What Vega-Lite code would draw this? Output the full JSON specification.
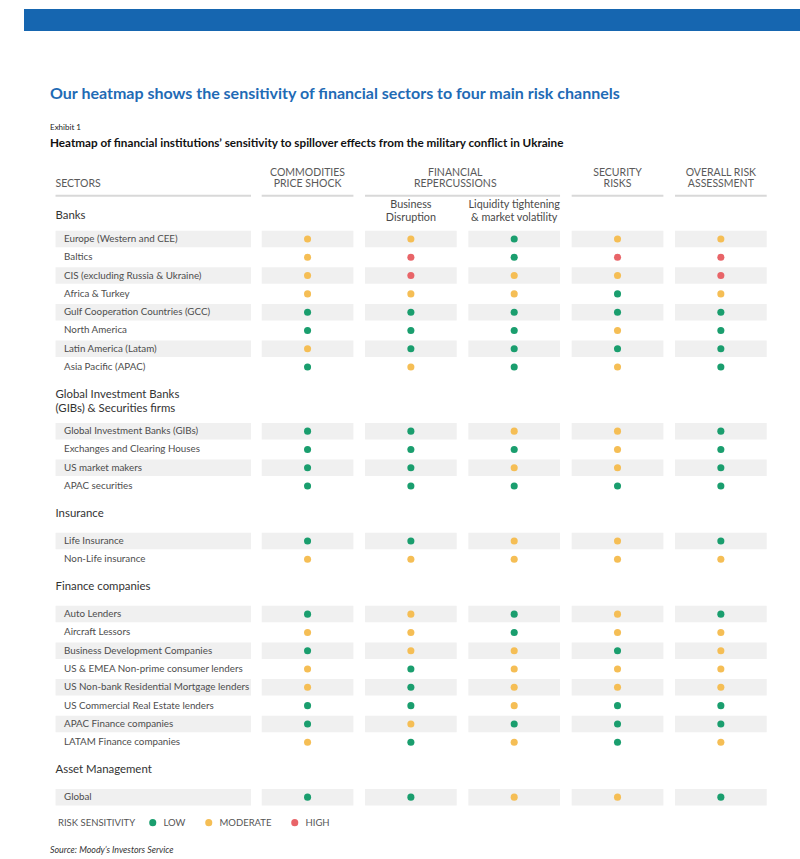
{
  "$schema": "https://vega.github.io/schema/vega-lite/v6.json",
  "padding": {"left": 24, "top": 9, "right": 0, "bottom": 0},
  "background": "white",
  "bounds": "flush",
  "spacing": 20.4,
  "config": {"view": {"stroke": null}, "font": "Lato"},
  "datasets": {
    "cells": [
      {"row": "Europe (Western and CEE)", "channel": "Commodities", "risk": "Moderate"},
      {"row": "Europe (Western and CEE)", "channel": "Business", "risk": "Moderate"},
      {"row": "Europe (Western and CEE)", "channel": "Liquidity", "risk": "Low"},
      {"row": "Europe (Western and CEE)", "channel": "Security", "risk": "Moderate"},
      {"row": "Europe (Western and CEE)", "channel": "Overall", "risk": "Moderate"},
      {"row": "Baltics", "channel": "Commodities", "risk": "Moderate"},
      {"row": "Baltics", "channel": "Business", "risk": "High"},
      {"row": "Baltics", "channel": "Liquidity", "risk": "Low"},
      {"row": "Baltics", "channel": "Security", "risk": "High"},
      {"row": "Baltics", "channel": "Overall", "risk": "High"},
      {"row": "CIS (excluding Russia & Ukraine)", "channel": "Commodities", "risk": "Moderate"},
      {"row": "CIS (excluding Russia & Ukraine)", "channel": "Business", "risk": "High"},
      {"row": "CIS (excluding Russia & Ukraine)", "channel": "Liquidity", "risk": "Moderate"},
      {"row": "CIS (excluding Russia & Ukraine)", "channel": "Security", "risk": "Moderate"},
      {"row": "CIS (excluding Russia & Ukraine)", "channel": "Overall", "risk": "High"},
      {"row": "Africa & Turkey", "channel": "Commodities", "risk": "Moderate"},
      {"row": "Africa & Turkey", "channel": "Business", "risk": "Moderate"},
      {"row": "Africa & Turkey", "channel": "Liquidity", "risk": "Moderate"},
      {"row": "Africa & Turkey", "channel": "Security", "risk": "Low"},
      {"row": "Africa & Turkey", "channel": "Overall", "risk": "Moderate"},
      {"row": "Gulf Cooperation Countries (GCC)", "channel": "Commodities", "risk": "Low"},
      {"row": "Gulf Cooperation Countries (GCC)", "channel": "Business", "risk": "Low"},
      {"row": "Gulf Cooperation Countries (GCC)", "channel": "Liquidity", "risk": "Low"},
      {"row": "Gulf Cooperation Countries (GCC)", "channel": "Security", "risk": "Low"},
      {"row": "Gulf Cooperation Countries (GCC)", "channel": "Overall", "risk": "Low"},
      {"row": "North America", "channel": "Commodities", "risk": "Low"},
      {"row": "North America", "channel": "Business", "risk": "Low"},
      {"row": "North America", "channel": "Liquidity", "risk": "Low"},
      {"row": "North America", "channel": "Security", "risk": "Moderate"},
      {"row": "North America", "channel": "Overall", "risk": "Low"},
      {"row": "Latin America (Latam)", "channel": "Commodities", "risk": "Moderate"},
      {"row": "Latin America (Latam)", "channel": "Business", "risk": "Low"},
      {"row": "Latin America (Latam)", "channel": "Liquidity", "risk": "Low"},
      {"row": "Latin America (Latam)", "channel": "Security", "risk": "Low"},
      {"row": "Latin America (Latam)", "channel": "Overall", "risk": "Low"},
      {"row": "Asia Pacific (APAC)", "channel": "Commodities", "risk": "Low"},
      {"row": "Asia Pacific (APAC)", "channel": "Business", "risk": "Moderate"},
      {"row": "Asia Pacific (APAC)", "channel": "Liquidity", "risk": "Low"},
      {"row": "Asia Pacific (APAC)", "channel": "Security", "risk": "Moderate"},
      {"row": "Asia Pacific (APAC)", "channel": "Overall", "risk": "Low"},
      {"row": "Global Investment Banks (GIBs)", "channel": "Commodities", "risk": "Low"},
      {"row": "Global Investment Banks (GIBs)", "channel": "Business", "risk": "Low"},
      {"row": "Global Investment Banks (GIBs)", "channel": "Liquidity", "risk": "Moderate"},
      {"row": "Global Investment Banks (GIBs)", "channel": "Security", "risk": "Moderate"},
      {"row": "Global Investment Banks (GIBs)", "channel": "Overall", "risk": "Low"},
      {"row": "Exchanges and Clearing Houses", "channel": "Commodities", "risk": "Low"},
      {"row": "Exchanges and Clearing Houses", "channel": "Business", "risk": "Low"},
      {"row": "Exchanges and Clearing Houses", "channel": "Liquidity", "risk": "Low"},
      {"row": "Exchanges and Clearing Houses", "channel": "Security", "risk": "Moderate"},
      {"row": "Exchanges and Clearing Houses", "channel": "Overall", "risk": "Low"},
      {"row": "US market makers", "channel": "Commodities", "risk": "Low"},
      {"row": "US market makers", "channel": "Business", "risk": "Low"},
      {"row": "US market makers", "channel": "Liquidity", "risk": "Moderate"},
      {"row": "US market makers", "channel": "Security", "risk": "Moderate"},
      {"row": "US market makers", "channel": "Overall", "risk": "Low"},
      {"row": "APAC securities", "channel": "Commodities", "risk": "Low"},
      {"row": "APAC securities", "channel": "Business", "risk": "Low"},
      {"row": "APAC securities", "channel": "Liquidity", "risk": "Low"},
      {"row": "APAC securities", "channel": "Security", "risk": "Low"},
      {"row": "APAC securities", "channel": "Overall", "risk": "Low"},
      {"row": "Life Insurance", "channel": "Commodities", "risk": "Low"},
      {"row": "Life Insurance", "channel": "Business", "risk": "Low"},
      {"row": "Life Insurance", "channel": "Liquidity", "risk": "Moderate"},
      {"row": "Life Insurance", "channel": "Security", "risk": "Moderate"},
      {"row": "Life Insurance", "channel": "Overall", "risk": "Low"},
      {"row": "Non-Life insurance", "channel": "Commodities", "risk": "Moderate"},
      {"row": "Non-Life insurance", "channel": "Business", "risk": "Moderate"},
      {"row": "Non-Life insurance", "channel": "Liquidity", "risk": "Moderate"},
      {"row": "Non-Life insurance", "channel": "Security", "risk": "Moderate"},
      {"row": "Non-Life insurance", "channel": "Overall", "risk": "Moderate"},
      {"row": "Auto Lenders", "channel": "Commodities", "risk": "Low"},
      {"row": "Auto Lenders", "channel": "Business", "risk": "Moderate"},
      {"row": "Auto Lenders", "channel": "Liquidity", "risk": "Low"},
      {"row": "Auto Lenders", "channel": "Security", "risk": "Moderate"},
      {"row": "Auto Lenders", "channel": "Overall", "risk": "Low"},
      {"row": "Aircraft Lessors", "channel": "Commodities", "risk": "Moderate"},
      {"row": "Aircraft Lessors", "channel": "Business", "risk": "Moderate"},
      {"row": "Aircraft Lessors", "channel": "Liquidity", "risk": "Low"},
      {"row": "Aircraft Lessors", "channel": "Security", "risk": "Moderate"},
      {"row": "Aircraft Lessors", "channel": "Overall", "risk": "Moderate"},
      {"row": "Business Development Companies", "channel": "Commodities", "risk": "Low"},
      {"row": "Business Development Companies", "channel": "Business", "risk": "Moderate"},
      {"row": "Business Development Companies", "channel": "Liquidity", "risk": "Moderate"},
      {"row": "Business Development Companies", "channel": "Security", "risk": "Low"},
      {"row": "Business Development Companies", "channel": "Overall", "risk": "Moderate"},
      {"row": "US & EMEA Non-prime consumer lenders", "channel": "Commodities", "risk": "Moderate"},
      {"row": "US & EMEA Non-prime consumer lenders", "channel": "Business", "risk": "Low"},
      {"row": "US & EMEA Non-prime consumer lenders", "channel": "Liquidity", "risk": "Moderate"},
      {"row": "US & EMEA Non-prime consumer lenders", "channel": "Security", "risk": "Moderate"},
      {"row": "US & EMEA Non-prime consumer lenders", "channel": "Overall", "risk": "Moderate"},
      {"row": "US Non-bank Residential Mortgage lenders", "channel": "Commodities", "risk": "Moderate"},
      {"row": "US Non-bank Residential Mortgage lenders", "channel": "Business", "risk": "Low"},
      {"row": "US Non-bank Residential Mortgage lenders", "channel": "Liquidity", "risk": "Moderate"},
      {"row": "US Non-bank Residential Mortgage lenders", "channel": "Security", "risk": "Moderate"},
      {"row": "US Non-bank Residential Mortgage lenders", "channel": "Overall", "risk": "Moderate"},
      {"row": "US Commercial Real Estate lenders", "channel": "Commodities", "risk": "Low"},
      {"row": "US Commercial Real Estate lenders", "channel": "Business", "risk": "Low"},
      {"row": "US Commercial Real Estate lenders", "channel": "Liquidity", "risk": "Moderate"},
      {"row": "US Commercial Real Estate lenders", "channel": "Security", "risk": "Low"},
      {"row": "US Commercial Real Estate lenders", "channel": "Overall", "risk": "Low"},
      {"row": "APAC Finance companies", "channel": "Commodities", "risk": "Low"},
      {"row": "APAC Finance companies", "channel": "Business", "risk": "Moderate"},
      {"row": "APAC Finance companies", "channel": "Liquidity", "risk": "Low"},
      {"row": "APAC Finance companies", "channel": "Security", "risk": "Low"},
      {"row": "APAC Finance companies", "channel": "Overall", "risk": "Low"},
      {"row": "LATAM Finance companies", "channel": "Commodities", "risk": "Moderate"},
      {"row": "LATAM Finance companies", "channel": "Business", "risk": "Low"},
      {"row": "LATAM Finance companies", "channel": "Liquidity", "risk": "Moderate"},
      {"row": "LATAM Finance companies", "channel": "Security", "risk": "Low"},
      {"row": "LATAM Finance companies", "channel": "Overall", "risk": "Moderate"},
      {"row": "Global", "channel": "Commodities", "risk": "Low"},
      {"row": "Global", "channel": "Business", "risk": "Low"},
      {"row": "Global", "channel": "Liquidity", "risk": "Moderate"},
      {"row": "Global", "channel": "Security", "risk": "Moderate"},
      {"row": "Global", "channel": "Overall", "risk": "Low"}
    ],
    "groups": [
      {"row": "h_banks", "label": "Banks"},
      {"row": "h_gib1", "label": "Global Investment Banks"},
      {"row": "h_gib2", "label": "(GIBs) & Securities firms"},
      {"row": "h_ins", "label": "Insurance"},
      {"row": "h_fin", "label": "Finance companies"},
      {"row": "h_am", "label": "Asset Management"}
    ],
    "texts": [
      {"row": "title", "label": "Our heatmap shows the sensitivity of financial sectors to four main risk channels"},
      {"row": "exhibit", "label": "Exhibit 1"},
      {"row": "subtitle", "label": "Heatmap of financial institutions’ sensitivity to spillover effects from the military conflict in Ukraine"},
      {"row": "source", "label": "Source: Moody’s Investors Service"}
    ],
    "columns": [
      {"row": "hdr1", "channel": "Commodities", "label": "COMMODITIES"},
      {"row": "hdr2", "channel": "Commodities", "label": "PRICE SHOCK"},
      {"row": "hdr1", "channel": "Security", "label": "SECURITY"},
      {"row": "hdr2", "channel": "Security", "label": "RISKS"},
      {"row": "hdr1", "channel": "Overall", "label": "OVERALL RISK"},
      {"row": "hdr2", "channel": "Overall", "label": "ASSESSMENT"},
      {"row": "hdr1", "channel": "Business", "label": "FINANCIAL", "span": "both"},
      {"row": "hdr2", "channel": "Business", "label": "REPERCUSSIONS", "span": "both"},
      {"row": "sub1", "channel": "Business", "label": "Business"},
      {"row": "sub2", "channel": "Business", "label": "Disruption"},
      {"row": "sub1", "channel": "Liquidity", "label": "Liquidity tightening"},
      {"row": "sub2", "channel": "Liquidity", "label": "& market volatility"}
    ]
  },
  "vconcat": [
    {
      "width": 776,
      "height": 22,
      "data": {"values": [{"part": "banner"}]},
      "mark": {"type": "rect", "color": "#1666b0"},
      "encoding": {
        "x": {"field": "part", "type": "nominal", "scale": {"paddingInner": 0, "paddingOuter": 0}, "axis": null},
        "y": {"field": "part", "type": "nominal", "scale": {"paddingInner": 0, "paddingOuter": 0}, "axis": null}
      }
    },
    {
      "bounds": "flush",
      "spacing": 10.7,
      "hconcat": [
        {
          "width": 227,
          "height": 805.2,
          "encoding": {
            "y": {"field": "row", "type": "nominal", "axis": null, "scale": {"paddingInner": 0, "paddingOuter": 0, "domain": ["_0","_1","_2","_3","title","_5","_6","_7","exhibit","_9","subtitle","_11","_12","hdr1","hdr2","ul","sub1","sub2","h_banks","_19","Europe (Western and CEE)","_21","Baltics","_23","CIS (excluding Russia & Ukraine)","_25","Africa & Turkey","_27","Gulf Cooperation Countries (GCC)","_29","North America","_31","Latin America (Latam)","_33","Asia Pacific (APAC)","_35","_36","h_gib1","_38","h_gib2","_40","Global Investment Banks (GIBs)","_42","Exchanges and Clearing Houses","_44","US market makers","_46","APAC securities","_48","_49","h_ins","_51","_52","Life Insurance","_54","Non-Life insurance","_56","_57","h_fin","_59","_60","Auto Lenders","_62","Aircraft Lessors","_64","Business Development Companies","_66","US & EMEA Non-prime consumer lenders","_68","US Non-bank Residential Mortgage lenders","_70","US Commercial Real Estate lenders","_72","APAC Finance companies","_74","LATAM Finance companies","_76","_77","h_am","_79","_80","Global","_82","_83","_84","_85","_86","source"]}},
            "x": {"datum": "Sectors", "type": "nominal", "axis": null, "scale": {"domain": ["Sectors"], "paddingInner": 0, "paddingOuter": 0.0806, "align": 1}}
          },
          "layer": [
            {
              "data": {"name": "cells"},
              "transform": [
                {"filter": "datum.channel == 'Commodities'"},
                {"window": [{"op": "row_number", "as": "idx"}]},
                {"filter": "datum.idx % 2 == 1"}
              ],
              "mark": {"type": "rect", "height": 16.5, "color": "#f0f0f0"}
            },
            {
              "data": {"name": "cells"},
              "transform": [{"filter": "datum.channel == 'Commodities'"}],
              "mark": {"type": "text", "align": "left", "baseline": "middle", "dx": 8.5, "fontSize": 9.8, "color": "#4d4d4d"},
              "encoding": {"x": {"datum": "Sectors", "type": "nominal", "bandPosition": 0}, "text": {"field": "row"}}
            },
            {
              "data": {"values": [{"row": "hdr2", "label": "SECTORS"}]},
              "mark": {"type": "text", "align": "left", "baseline": "middle", "fontSize": 10.5, "color": "#5a5a5a"},
              "encoding": {"x": {"datum": "Sectors", "type": "nominal", "bandPosition": 0}, "text": {"field": "label"}}
            },
            {
              "data": {"values": [{"row": "ul"}]},
              "mark": {"type": "rect", "height": 2, "yOffset": 2.45, "color": "#d8d8d8"}
            },
            {
              "data": {"name": "groups"},
              "transform": [{"filter": {"field": "row", "oneOf": ["h_banks", "h_gib2"]}}],
              "mark": {"type": "text", "align": "left", "baseline": "middle", "dy": -4.2, "fontSize": 11.4, "color": "#333333"},
              "encoding": {"x": {"datum": "Sectors", "type": "nominal", "bandPosition": 0}, "text": {"field": "label"}}
            },
            {
              "data": {"name": "groups"},
              "transform": [{"filter": {"not": {"field": "row", "oneOf": ["h_banks", "h_gib2"]}}}],
              "mark": {"type": "text", "align": "left", "baseline": "middle", "dy": 0.4, "fontSize": 11.4, "color": "#333333"},
              "encoding": {"x": {"datum": "Sectors", "type": "nominal", "bandPosition": 0}, "text": {"field": "label"}}
            },
            {
              "data": {"name": "texts"},
              "transform": [{"filter": "datum.row == 'title'"}],
              "mark": {"type": "text", "align": "left", "baseline": "middle", "dx": -5.5, "dy": 1.7, "fontSize": 16, "fontWeight": "bold", "color": "#1f6bb5"},
              "encoding": {"x": {"datum": "Sectors", "type": "nominal", "bandPosition": 0}, "text": {"field": "label"}}
            },
            {
              "data": {"name": "texts"},
              "transform": [{"filter": "datum.row == 'exhibit'"}],
              "mark": {"type": "text", "align": "left", "baseline": "middle", "dx": -5.5, "dy": -1.2, "fontSize": 8, "color": "#222222"},
              "encoding": {"x": {"datum": "Sectors", "type": "nominal", "bandPosition": 0}, "text": {"field": "label"}}
            },
            {
              "data": {"name": "texts"},
              "transform": [{"filter": "datum.row == 'subtitle'"}],
              "mark": {"type": "text", "align": "left", "baseline": "middle", "dx": -5.5, "dy": -4.8, "fontSize": 11.7, "fontWeight": "bold", "color": "#111111"},
              "encoding": {"x": {"datum": "Sectors", "type": "nominal", "bandPosition": 0}, "text": {"field": "label"}}
            },
            {
              "data": {"name": "texts"},
              "transform": [{"filter": "datum.row == 'source'"}],
              "mark": {"type": "text", "align": "left", "baseline": "middle", "dx": -5.5, "dy": -2, "fontSize": 8.9, "fontStyle": "italic", "color": "#333333"},
              "encoding": {"x": {"datum": "Sectors", "type": "nominal", "bandPosition": 0}, "text": {"field": "label"}}
            }
          ]
        },
        {
          "width": 505,
          "height": 805.2,
          "encoding": {
            "y": {"field": "row", "type": "nominal", "axis": null, "scale": {"paddingInner": 0, "paddingOuter": 0, "domain": ["_0","_1","_2","_3","title","_5","_6","_7","exhibit","_9","subtitle","_11","_12","hdr1","hdr2","ul","sub1","sub2","h_banks","_19","Europe (Western and CEE)","_21","Baltics","_23","CIS (excluding Russia & Ukraine)","_25","Africa & Turkey","_27","Gulf Cooperation Countries (GCC)","_29","North America","_31","Latin America (Latam)","_33","Asia Pacific (APAC)","_35","_36","h_gib1","_38","h_gib2","_40","Global Investment Banks (GIBs)","_42","Exchanges and Clearing Houses","_44","US market makers","_46","APAC securities","_48","_49","h_ins","_51","_52","Life Insurance","_54","Non-Life insurance","_56","_57","h_fin","_59","_60","Auto Lenders","_62","Aircraft Lessors","_64","Business Development Companies","_66","US & EMEA Non-prime consumer lenders","_68","US Non-bank Residential Mortgage lenders","_70","US Commercial Real Estate lenders","_72","APAC Finance companies","_74","LATAM Finance companies","_76","_77","h_am","_79","_80","Global","_82","_83","_84","_85","_86","source"]}},
            "x": {"field": "channel", "type": "nominal", "axis": null, "scale": {"domain": ["Commodities", "Business", "Liquidity", "Security", "Overall"], "paddingInner": 0.1125, "paddingOuter": 0}}
          },
          "layer": [
            {
              "data": {"name": "cells"},
              "transform": [
                {"window": [{"op": "row_number", "as": "idx"}], "groupby": ["channel"]},
                {"filter": "datum.idx % 2 == 1"}
              ],
              "mark": {"type": "rect", "height": 16.5, "color": "#f0f0f0"}
            },
            {
              "data": {"name": "cells"},
              "mark": {"type": "circle", "size": 50, "opacity": 1},
              "encoding": {
                "color": {
                  "field": "risk",
                  "type": "nominal",
                  "scale": {"domain": ["Low", "Moderate", "High"], "range": ["#1a9e6e", "#f5be55", "#e86468"]},
                  "legend": {
                    "orient": "none", "legendX": 34, "legendY": 808.5, "direction": "horizontal",
                    "title": "RISK SENSITIVITY", "titleOrient": "left", "titleFontSize": 9.5, "titleFontWeight": "normal",
                    "titleColor": "#555555", "titlePadding": 12, "labelFontSize": 9.5, "labelColor": "#555555",
                    "labelExpr": "upper(datum.label)", "symbolSize": 50, "symbolType": "circle", "symbolStrokeWidth": 0,
                    "symbolOpacity": 1, "labelOffset": 6, "columnPadding": 18
                  }
                }
              }
            },
            {
              "data": {"name": "columns"},
              "transform": [{"filter": "datum.row == 'hdr1' && datum.span != 'both'"}],
              "mark": {"type": "text", "baseline": "middle", "align": "center", "dy": -2.25, "fontSize": 10.5, "color": "#5a5a5a"},
              "encoding": {"text": {"field": "label"}}
            },
            {
              "data": {"name": "columns"},
              "transform": [{"filter": "datum.row == 'hdr2' && datum.span != 'both'"}],
              "mark": {"type": "text", "baseline": "middle", "align": "center", "fontSize": 10.5, "color": "#5a5a5a"},
              "encoding": {"text": {"field": "label"}}
            },
            {
              "data": {"name": "columns"},
              "transform": [{"filter": "datum.row == 'hdr1' && datum.span == 'both'"}],
              "mark": {"type": "text", "baseline": "middle", "align": "center", "dx": -1.5, "dy": -2.25, "fontSize": 10.5, "color": "#5a5a5a"},
              "encoding": {"x": {"field": "channel", "type": "nominal", "bandPosition": 1}, "text": {"field": "label"}}
            },
            {
              "data": {"name": "columns"},
              "transform": [{"filter": "datum.row == 'hdr2' && datum.span == 'both'"}],
              "mark": {"type": "text", "baseline": "middle", "align": "center", "dx": -1.5, "fontSize": 10.5, "color": "#5a5a5a"},
              "encoding": {"x": {"field": "channel", "type": "nominal", "bandPosition": 1}, "text": {"field": "label"}}
            },
            {
              "data": {"name": "columns"},
              "transform": [{"filter": "datum.row == 'sub1'"}],
              "mark": {"type": "text", "baseline": "middle", "align": "center", "dy": 2.6, "fontSize": 10.8, "color": "#4a4a4a"},
              "encoding": {"text": {"field": "label"}}
            },
            {
              "data": {"name": "columns"},
              "transform": [{"filter": "datum.row == 'sub2'"}],
              "mark": {"type": "text", "baseline": "middle", "align": "center", "dy": 6.75, "fontSize": 10.8, "color": "#4a4a4a"},
              "encoding": {"text": {"field": "label"}}
            },
            {
              "data": {"values": [{"row": "ul", "channel": "Commodities"}, {"row": "ul", "channel": "Security"}, {"row": "ul", "channel": "Overall"}]},
              "mark": {"type": "rect", "height": 2, "yOffset": 2.45, "color": "#d8d8d8"}
            },
            {
              "data": {"values": [{"row": "ul"}]},
              "mark": {"type": "rule", "strokeWidth": 2, "yOffset": 2.45, "color": "#d8d8d8"},
              "encoding": {
                "x": {"datum": "Business", "type": "nominal", "bandPosition": 0},
                "x2": {"datum": "Liquidity", "bandPosition": 1}
              }
            }
          ]
        }
      ]
    }
  ]
}
